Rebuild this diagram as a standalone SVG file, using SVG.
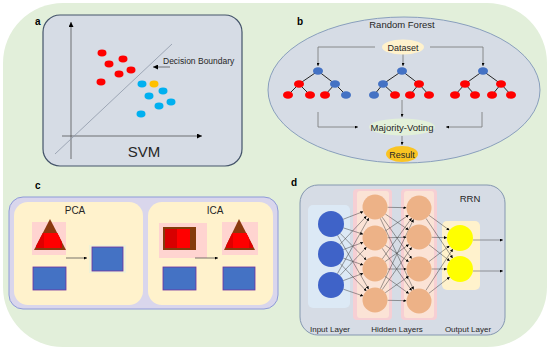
<svg xmlns="http://www.w3.org/2000/svg" width="550" height="350" viewBox="0 0 550 350">
<style>
text{font-family:"Liberation Sans",Arial,sans-serif;fill:#262626}
.lbl{font-weight:bold;font-size:10px;fill:#000}
.thin{stroke:#404040;stroke-width:0.7;fill:none}
.gline{stroke:#7F7F7F;stroke-width:0.9;fill:none}
.nn{stroke:#404040;stroke-width:0.5;fill:none}
.red{fill:#FF0000}
.blu{fill:#00B0F0}
.tb{fill:#4472C4}
.tr{fill:#FF0000}
.te{stroke:#262626;stroke-width:1}
.brect{fill:#4472C4;stroke:#7030A0;stroke-width:0.8}
.halo{fill:#FFC7D2;opacity:0.7}
.ih{fill:#3F63C8}
.hh{fill:#EDB287}
.oh{fill:#FFFF00}
</style>
<defs>
<marker id="ar" markerUnits="userSpaceOnUse" markerWidth="5" markerHeight="5" refX="5" refY="2.5" orient="auto"><path d="M0,0 L5,2.5 L0,5 z" fill="#000"/></marker>
<marker id="dt" markerUnits="userSpaceOnUse" markerWidth="3" markerHeight="3" refX="3" refY="1.5" orient="auto"><path d="M0,0 L3,1.5 L0,3 z" fill="#000"/></marker>
<clipPath id="t1"><polygon points="50,219 34,250 66,250"/></clipPath>
<clipPath id="t2"><polygon points="239,219 224,250 255,250"/></clipPath>
</defs>
<rect x="3" y="3" width="544" height="344" rx="60" fill="#E2EFDA"/>

<g id="panel-a">
<rect x="43" y="15" width="199" height="151" rx="17" fill="#D6DCE5" stroke="#44546A" stroke-width="1.2"/>
<text class="lbl" x="35" y="25">a</text>
<line class="thin" x1="71" y1="159" x2="71" y2="22" marker-end="url(#ar)" stroke-width="0.9"/>
<line class="thin" x1="62" y1="136" x2="202" y2="136" marker-end="url(#ar)" stroke-width="0.9"/>
<line x1="55" y1="154" x2="172" y2="44" stroke="#8E98A8" stroke-width="0.8"/>
<text x="163" y="64" font-size="8.5">Decision Boundary</text>
<line class="thin" x1="170" y1="67" x2="153" y2="67" marker-end="url(#ar)"/>
<g id="dots">
<ellipse class="red" cx="102" cy="53" rx="4.5" ry="3.4"/>
<ellipse class="red" cx="123" cy="59" rx="4.5" ry="3.4"/>
<ellipse class="red" cx="109" cy="64" rx="4.5" ry="3.4"/>
<ellipse class="red" cx="131" cy="70" rx="4.5" ry="3.4"/>
<ellipse class="red" cx="119" cy="74" rx="4.5" ry="3.4"/>
<ellipse class="red" cx="101" cy="82" rx="4.5" ry="3.4"/>
<ellipse class="blu" cx="142" cy="84" rx="4.5" ry="3.4"/>
<ellipse fill="#FFC000" cx="154" cy="84" rx="4.5" ry="3.4"/>
<ellipse class="blu" cx="163" cy="91" rx="4.5" ry="3.4"/>
<ellipse class="blu" cx="149" cy="96" rx="4.5" ry="3.4"/>
<ellipse class="blu" cx="171" cy="102" rx="4.5" ry="3.4"/>
<ellipse class="blu" cx="159" cy="106" rx="4.5" ry="3.4"/>
<ellipse class="blu" cx="141" cy="114" rx="4.5" ry="3.4"/>
</g>
<text x="144" y="157" font-size="15" text-anchor="middle">SVM</text>
</g>

<g id="panel-b">
<ellipse cx="404" cy="90" rx="136" ry="73" fill="#D6DCE5" stroke="#7F96B8" stroke-width="0.9"/>
<text class="lbl" x="297" y="25">b</text>
<text x="402" y="28" font-size="9.5" text-anchor="middle">Random Forest</text>
</g>

<g id="connectors-b">
<polyline class="gline" points="375,47 318,47 318,66" marker-end="url(#dt)"/>
<polyline class="gline" points="430,47 483,47 483,66" marker-end="url(#dt)"/>
<line class="gline" x1="403" y1="54" x2="403" y2="66" marker-end="url(#dt)"/>
<line class="gline" x1="402" y1="100" x2="402" y2="117" marker-end="url(#dt)"/>
<polyline class="gline" points="318,112 318,127 358,127" marker-end="url(#dt)"/>
<polyline class="gline" points="482,112 482,127 446,127" marker-end="url(#dt)"/>
<line class="gline" x1="402" y1="136" x2="402" y2="145" marker-end="url(#dt)"/>
</g>

<g id="dataset"><ellipse cx="403" cy="47" rx="21" ry="7.5" fill="#FFF2CC"/><text x="403" y="50.5" font-size="9" text-anchor="middle">Dataset</text></g>

<g id="tree-1">
<line class="te" x1="318" y1="71" x2="299" y2="84"/><line class="te" x1="318" y1="71" x2="335" y2="84"/>
<line class="te" x1="299" y1="84" x2="288" y2="95"/><line class="te" x1="299" y1="84" x2="310" y2="95"/>
<line class="te" x1="335" y1="84" x2="325" y2="95"/><line class="te" x1="335" y1="84" x2="346" y2="95"/>
<ellipse class="tb" cx="318" cy="71" rx="5" ry="3.8"/>
<ellipse class="tr" cx="299" cy="84" rx="5" ry="3.8"/><ellipse class="tb" cx="335" cy="84" rx="5" ry="3.8"/>
<ellipse class="tr" cx="288" cy="95" rx="5" ry="3.8"/><ellipse class="tr" cx="310" cy="95" rx="5" ry="3.8"/>
<ellipse class="tr" cx="325" cy="95" rx="5" ry="3.8"/><ellipse class="tb" cx="346" cy="95" rx="5" ry="3.8"/>
</g>
<g id="tree-2">
<line class="te" x1="402" y1="71" x2="383" y2="84"/><line class="te" x1="402" y1="71" x2="419" y2="84"/>
<line class="te" x1="383" y1="84" x2="374" y2="95"/><line class="te" x1="383" y1="84" x2="395" y2="95"/>
<line class="te" x1="419" y1="84" x2="410" y2="95"/><line class="te" x1="419" y1="84" x2="429" y2="95"/>
<ellipse class="tb" cx="402" cy="71" rx="5" ry="3.8"/>
<ellipse class="tb" cx="383" cy="84" rx="5" ry="3.8"/><ellipse class="tr" cx="419" cy="84" rx="5" ry="3.8"/>
<ellipse class="tb" cx="374" cy="95" rx="5" ry="3.8"/><ellipse class="tr" cx="395" cy="95" rx="5" ry="3.8"/>
<ellipse class="tr" cx="410" cy="95" rx="5" ry="3.8"/><ellipse class="tr" cx="429" cy="95" rx="5" ry="3.8"/>
</g>
<g id="tree-3">
<line class="te" x1="483" y1="71" x2="465" y2="84"/><line class="te" x1="483" y1="71" x2="501" y2="84"/>
<line class="te" x1="465" y1="84" x2="455" y2="95"/><line class="te" x1="465" y1="84" x2="475" y2="95"/>
<line class="te" x1="501" y1="84" x2="492" y2="95"/><line class="te" x1="501" y1="84" x2="511" y2="95"/>
<ellipse class="tb" cx="483" cy="71" rx="5" ry="3.8"/>
<ellipse class="tr" cx="465" cy="84" rx="5" ry="3.8"/><ellipse class="tr" cx="501" cy="84" rx="5" ry="3.8"/>
<ellipse class="tr" cx="455" cy="95" rx="5" ry="3.8"/><ellipse class="tr" cx="475" cy="95" rx="5" ry="3.8"/>
<ellipse class="tr" cx="492" cy="95" rx="5" ry="3.8"/><ellipse class="tr" cx="511" cy="95" rx="5" ry="3.8"/>
</g>
<g id="majority"><ellipse cx="402" cy="127" rx="33" ry="8.5" fill="#E2F0D9"/><text x="402" y="130.5" font-size="9.5" text-anchor="middle">Majority-Voting</text></g>
<g id="result"><ellipse cx="402" cy="154" rx="16" ry="8" fill="#FFC000" opacity="0.85"/><text x="402" y="157.5" font-size="9" text-anchor="middle">Result</text></g>

<g id="panel-c">
<rect x="9" y="197" width="269" height="112" rx="14" fill="#D9D6EC" stroke="#8E9AD8" stroke-width="1"/>
<text class="lbl" x="35" y="189">c</text>
<rect x="14" y="202" width="129" height="103" rx="14" fill="#FFF2CC"/>
<rect x="148" y="202" width="125" height="103" rx="14" fill="#FFF2CC"/>
<text x="75" y="214" font-size="10" text-anchor="middle">PCA</text>
<text x="215" y="214" font-size="10" text-anchor="middle">ICA</text>
</g>
<g id="pca-input">
<rect class="halo" x="32" y="222" width="34" height="33"/>
<polygon points="50,219 34,250 66,250" fill="#8B3A0E"/>
<rect clip-path="url(#t1)" x="36" y="233" width="26" height="15" fill="#E00000"/>
<rect clip-path="url(#t1)" x="44" y="233" width="16" height="15" fill="#FF0000"/>
<rect class="brect" x="33" y="267" width="33" height="23"/>
</g>
<g id="pca-output"><rect x="89" y="245" width="37" height="28" fill="#E4F2DC" opacity="0.6"/><rect class="brect" x="92" y="247" width="31" height="24"/></g>
<g id="ica-input">
<rect class="halo" x="159" y="223" width="48" height="35"/>
<rect x="163" y="227" width="33" height="23" fill="#843C0C"/>
<rect x="165" y="229" width="12" height="19" fill="#D80000"/>
<rect x="177" y="229" width="13" height="19" fill="#FF0000"/>
<rect class="brect" x="163" y="267" width="33" height="23"/>
</g>
<g id="ica-output">
<rect class="halo" x="222" y="222" width="36" height="33"/>
<polygon points="239,219 224,250 255,250" fill="#8B3A0E"/>
<rect clip-path="url(#t2)" x="226" y="233" width="27" height="15" fill="#E00000"/>
<rect clip-path="url(#t2)" x="233" y="233" width="16" height="15" fill="#FF0000"/>
<rect class="brect" x="223" y="267" width="32" height="23"/>
</g>
<g id="connectors-c">
<line class="thin" x1="66" y1="258" x2="87" y2="258" marker-end="url(#dt)"/>
<line class="thin" x1="195" y1="258" x2="218" y2="258" marker-end="url(#dt)"/>
</g>

<g id="panel-d">
<rect x="300" y="185" width="205" height="150" rx="18" fill="#D6DCE5" stroke="#8497B0" stroke-width="1"/>
<text class="lbl" x="291" y="186">d</text>
<text x="470" y="202" font-size="9.5" text-anchor="middle">RRN</text>
<rect x="308" y="205" width="42" height="103" rx="5" fill="#DCE9F5"/>
<rect x="353" y="189" width="39" height="131" rx="4" fill="#F6CFD4"/>
<rect x="357" y="191" width="32" height="127" rx="3" fill="#FBE3D6"/>
<rect x="401" y="189" width="36" height="131" rx="4" fill="#F6CFD4"/>
<rect x="404" y="191" width="30" height="127" rx="3" fill="#FBE3D6"/>
<rect x="442" y="221" width="38" height="69" rx="5" fill="#FFF2CC"/>
<text x="330" y="332" font-size="8" text-anchor="middle">Input Layer</text>
<text x="397" y="332" font-size="8" text-anchor="middle">Hidden Layers</text>
<text x="468" y="332" font-size="8" text-anchor="middle">Output Layer</text>
</g>
<g id="connectors-d" class="nn" stroke="#404040" stroke-width="0.5" fill="none">
<line x1="343.1" y1="219.3" x2="363.3" y2="211.5" marker-end="url(#dt)"/>
<line x1="343.4" y1="227.9" x2="363.1" y2="234.2" marker-end="url(#dt)"/>
<line x1="340.1" y1="233.3" x2="366.3" y2="260.1" marker-end="url(#dt)"/>
<line x1="337.5" y1="235.2" x2="368.7" y2="289.2" marker-end="url(#dt)"/>
<line x1="339.9" y1="244.5" x2="366.5" y2="216.1" marker-end="url(#dt)"/>
<line x1="343.2" y1="249.6" x2="363.3" y2="242.3" marker-end="url(#dt)"/>
<line x1="343.3" y1="258.2" x2="363.2" y2="265.0" marker-end="url(#dt)"/>
<line x1="340.0" y1="263.4" x2="366.4" y2="291.0" marker-end="url(#dt)"/>
<line x1="337.4" y1="273.7" x2="368.9" y2="217.9" marker-end="url(#dt)"/>
<line x1="339.9" y1="275.5" x2="366.5" y2="247.1" marker-end="url(#dt)"/>
<line x1="343.2" y1="280.6" x2="363.3" y2="273.3" marker-end="url(#dt)"/>
<line x1="343.3" y1="289.2" x2="363.2" y2="296.0" marker-end="url(#dt)"/>
<line x1="387.5" y1="207.3" x2="406.5" y2="207.7" marker-end="url(#dt)"/>
<line x1="385.3" y1="214.0" x2="408.7" y2="230.0" marker-end="url(#dt)"/>
<line x1="382.2" y1="217.2" x2="411.8" y2="258.8" marker-end="url(#dt)"/>
<line x1="380.3" y1="218.3" x2="413.7" y2="289.7" marker-end="url(#dt)"/>
<line x1="385.3" y1="231.0" x2="408.7" y2="215.0" marker-end="url(#dt)"/>
<line x1="387.5" y1="237.7" x2="406.5" y2="237.3" marker-end="url(#dt)"/>
<line x1="385.2" y1="245.2" x2="408.8" y2="261.8" marker-end="url(#dt)"/>
<line x1="382.2" y1="248.3" x2="411.8" y2="290.7" marker-end="url(#dt)"/>
<line x1="382.3" y1="258.9" x2="411.7" y2="218.1" marker-end="url(#dt)"/>
<line x1="385.1" y1="261.6" x2="408.9" y2="244.4" marker-end="url(#dt)"/>
<line x1="387.5" y1="269" x2="406.5" y2="269" marker-end="url(#dt)"/>
<line x1="385.1" y1="276.4" x2="408.9" y2="293.6" marker-end="url(#dt)"/>
<line x1="380.4" y1="288.7" x2="413.6" y2="219.3" marker-end="url(#dt)"/>
<line x1="382.2" y1="289.7" x2="411.8" y2="247.3" marker-end="url(#dt)"/>
<line x1="385.2" y1="292.8" x2="408.8" y2="276.2" marker-end="url(#dt)"/>
<line x1="387.5" y1="300.3" x2="406.5" y2="300.7" marker-end="url(#dt)"/>
<line x1="429.1" y1="215.4" x2="449.5" y2="230.3" marker-end="url(#dt)"/>
<line x1="426.0" y1="218.4" x2="452.7" y2="258.2" marker-end="url(#dt)"/>
<line x1="431.5" y1="237.3" x2="447.0" y2="237.7" marker-end="url(#dt)"/>
<line x1="428.9" y1="244.7" x2="449.8" y2="261.0" marker-end="url(#dt)"/>
<line x1="429.0" y1="261.5" x2="449.6" y2="245.8" marker-end="url(#dt)"/>
<line x1="431.5" y1="269" x2="447" y2="269" marker-end="url(#dt)"/>
<line x1="425.8" y1="290.5" x2="452.9" y2="248.9" marker-end="url(#dt)"/>
<line x1="428.9" y1="293.3" x2="449.8" y2="277.0" marker-end="url(#dt)"/>
<line x1="473" y1="240" x2="503" y2="240" marker-end="url(#dt)"/>
<line x1="473" y1="271" x2="503" y2="271" marker-end="url(#dt)"/>
</g>
<g id="input-nodes"><circle class="ih" cx="331" cy="224" r="13"/><circle class="ih" cx="331" cy="254" r="13"/><circle class="ih" cx="331" cy="285" r="13"/></g>
<g id="hidden-1"><circle class="hh" cx="375" cy="207" r="12.5"/><circle class="hh" cx="375" cy="238" r="12.5"/><circle class="hh" cx="375" cy="269" r="12.5"/><circle class="hh" cx="375" cy="300" r="12.5"/></g>
<g id="hidden-2"><circle class="hh" cx="419" cy="208" r="12.5"/><circle class="hh" cx="419" cy="237" r="12.5"/><circle class="hh" cx="419" cy="269" r="12.5"/><circle class="hh" cx="419" cy="301" r="12.5"/></g>
<g id="output-nodes"><circle class="oh" cx="460" cy="238" r="13"/><circle class="oh" cx="460" cy="269" r="13"/></g>
</svg>
